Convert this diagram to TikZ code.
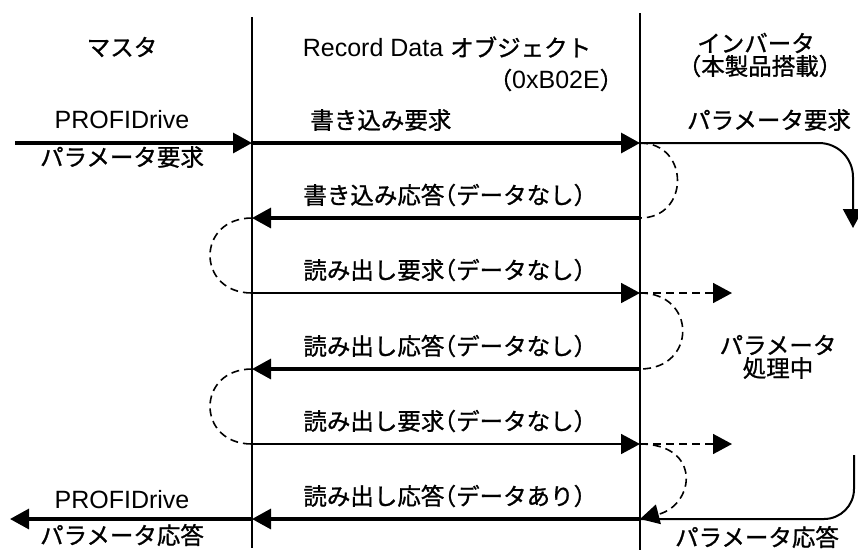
\documentclass[tikz,border=0pt]{standalone}
\usepackage{fontspec}
\setmainfont{Liberation Sans}
\newfontfamily\jp{Noto Sans CJK JP}[Scale=0.94,RawFeature=+halt,FakeBold=1]
\usetikzlibrary{arrows.meta}

\begin{document}
\begin{tikzpicture}[x=0.5pt,y=-0.5pt,
  font=\fontsize{12.5}{15}\selectfont, inner sep=0pt,
  head/.style={-{Triangle[length=9.5pt,width=10pt]}},
  life/.style={line width=1.3pt},
  msg/.style={line width=1.6pt,head},
  thinmsg/.style={line width=0.9pt,head},
  wait/.style={line width=0.8pt,dash pattern=on 4pt off 2.5pt}]
\useasboundingbox (0,0) rectangle (858,559);

% lifelines
\coordinate (Ltop) at (252,17);
\coordinate (Lbot) at (252,548);
\coordinate (Rtop) at (640,13);
\coordinate (Rbot) at (640,550);
\draw[life] (Ltop) -- (Lbot);
\draw[life] (Rtop) -- (Rbot);
\foreach \k/\y in {1/143,2/218,3/293,4/369,5/444,6/519}{
  \coordinate (L\k) at (252,\y);
  \coordinate (R\k) at (640,\y);
}

% headers
\node (master) at (122,47) {\jp マスタ};
\node (record) at (447,47) {Record Data {\jp オブジェクト}};
\node (recid) at (556,80) {{\jp （}0xB02E{\jp ）}};
\node (inv) at (756,43) {\jp インバータ};
\node (invnote) at (760,66) {\jp （本製品搭載）};

% master side
\coordinate (entry) at (15,143);
\coordinate (exit) at (10,519);
\draw[msg] (entry) -- (L1);
\node (preq) at (122,120) {PROFIDrive};
\node (preq2) at (122,157) {\jp パラメータ要求};
\draw[msg] (L6) -- (exit);
\node (pres) at (122,500) {PROFIDrive};
\node (pres2) at (122,535) {\jp パラメータ応答};

% record data messages
\draw[msg] (L1) -- (R1);
\node[anchor=west] (wreq) at (310,120) {\jp 書き込み要求};
\draw[msg] (R2) -- (L2);
\node[anchor=west] (wres) at (303,195) {\jp 書き込み応答（データなし）};
\draw[thinmsg] (L3) -- (R3);
\node[anchor=west] (rreq1) at (303,270) {\jp 読み出し要求（データなし）};
\draw[msg] (R4) -- (L4);
\node[anchor=west] (rres1) at (303,346) {\jp 読み出し応答（データなし）};
\draw[thinmsg] (L5) -- (R5);
\node[anchor=west] (rreq2) at (303,421) {\jp 読み出し要求（データなし）};
\draw[msg] (R6) -- (L6);
\node[anchor=west] (rres2) at (303,496) {\jp 読み出し応答（データあり）};

% inverter side
\coordinate (pdown) at (853,228);
\coordinate (pup) at (854,455);
\coordinate (poll1) at (732,293);
\coordinate (poll2) at (732,444);
\draw[line width=1pt,rounded corners=17pt,head] (R1) -| (pdown);
\node (ireq) at (769,120) {\jp パラメータ要求};
\draw[line width=1pt,rounded corners=15pt] (pup) |- (R6);
\node (ires) at (757,537) {\jp パラメータ応答};
\node (proc) at (778,345) {\jp パラメータ};
\node (proc2) at (778,368) {\jp 処理中};

% waiting loops
\draw[wait] (R1) .. controls +(50,0) and +(50,0) .. (R2);
\draw[wait] (L2) .. controls +(-56,0) and +(-56,0) .. (L3);
\draw[wait,head] (R3) -- (poll1);
\draw[wait] (R3) .. controls +(57,0) and +(57,0) .. (R4);
\draw[wait] (L4) .. controls +(-56,0) and +(-56,0) .. (L5);
\draw[wait,head] (R5) -- (poll2);
\draw[wait,head] (R5) .. controls +(62,0) and +(55,-14) .. (R6);
\end{tikzpicture}
\end{document}
